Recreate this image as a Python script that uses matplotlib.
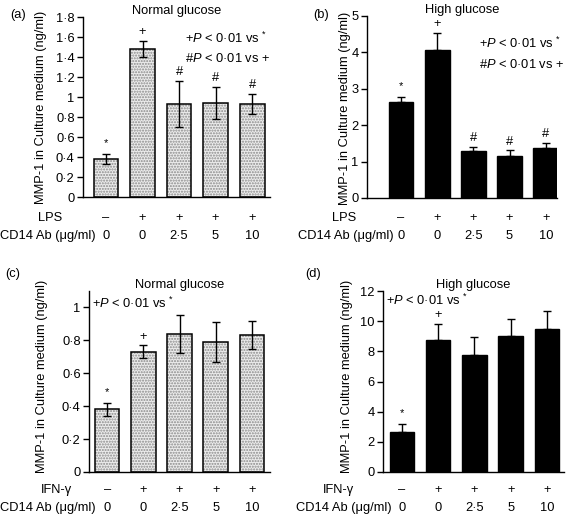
import matplotlib
matplotlib.use("Agg")
import matplotlib.pyplot as plt
from matplotlib.ticker import FuncFormatter

plt.rcParams['font.family'] = ['Liberation Sans', 'DejaVu Sans']
plt.rcParams['mathtext.fontset'] = 'custom'
plt.rcParams['mathtext.rm'] = 'Liberation Sans'
plt.rcParams['mathtext.it'] = 'Liberation Sans:italic'
plt.rcParams['mathtext.bf'] = 'Liberation Sans:bold'
FS = 9.3
plt.rcParams['font.size'] = FS

# ---------------- data ----------------
cd14_labels = ["0", "0", "2·5", "5", "10"]
stim_signs = ["–", "+", "+", "+", "+"]

a_vals = [0.38, 1.48, 0.93, 0.94, 0.93]
a_errs = [0.05, 0.08, 0.23, 0.16, 0.10]
a_marks = ["*", "+", "#", "#", "#"]

b_vals = [2.64, 4.06, 1.29, 1.16, 1.37]
b_errs = [0.13, 0.47, 0.11, 0.15, 0.14]
b_marks = ["*", "+", "#", "#", "#"]

c_vals = [0.38, 0.73, 0.84, 0.79, 0.835]
c_errs = [0.04, 0.04, 0.115, 0.12, 0.085]
c_marks = ["*", "+", "", "", ""]

d_vals = [2.64, 8.74, 7.75, 9.03, 9.45]
d_errs = [0.53, 1.10, 1.20, 1.10, 1.20]
d_marks = ["*", "+", "", "", ""]

W, H = 568, 520
fig = plt.figure(figsize=(W / 100, H / 100), dpi=100)


def px_axes(left, right, bottom, top):
    return fig.add_axes([left / W, 1 - bottom / H, (right - left) / W, (bottom - top) / H])


def fmt(v, pos):
    if abs(v - round(v)) < 1e-9:
        return "%d" % round(v)
    return ("%.1f" % v).replace(".", "·")


def panel(ax, vals, errs, marks, dotted, xlim, ylim, yticks, title, letter,
          lab_px, legend, leg_px, ylab_x, row_px, ylab_y):
    x = list(range(len(vals)))
    if dotted:
        ax.bar(x, vals, width=0.68, color="#ececec", edgecolor="#8a8a8a", hatch="......",
               linewidth=0, zorder=2)
        ax.bar(x, vals, width=0.68, fill=False, edgecolor="black", linewidth=1.1, zorder=3)
        ax.errorbar(x, vals, yerr=errs, fmt="none", ecolor="black", elinewidth=1.0,
                    capsize=3, capthick=1.0, zorder=4)
    else:
        ax.bar(x, vals, width=0.68, color="black", edgecolor="black", linewidth=1.0, zorder=2)
        ax.errorbar(x, vals, yerr=[[0] * len(errs), errs], fmt="none", ecolor="black",
                    elinewidth=1.0, capsize=3, capthick=1.0, zorder=1)
    span = ylim[1] - ylim[0]
    for xi, v, e, m in zip(x, vals, errs, marks):
        if m:
            if m == "*":
                ax.text(xi, v + e + 0.06 * span, m, ha="center", va="center", fontsize=8)
            else:
                ax.text(xi, v + e + 0.015 * span, m, ha="center", va="bottom", fontsize=FS)
    ax.set_xlim(*xlim)
    ax.set_ylim(*ylim)
    ax.set_yticks(yticks)
    ax.yaxis.set_major_formatter(FuncFormatter(fmt))
    ax.set_xticks([])
    for s in ("top", "right"):
        ax.spines[s].set_visible(False)
    ax.spines["left"].set_linewidth(1.0)
    ax.spines["bottom"].set_linewidth(1.0)
    ax.tick_params(axis="y", direction="out", length=4, width=1.0, labelsize=FS, pad=2)
    ax.set_title(title, fontsize=FS, pad=1)
    fig.text(ylab_x / W, 1 - ylab_y / H, "MMP-1 in Culture medium (ng/ml)", rotation=90,
             ha="center", va="center", fontsize=FS)
    fig.text(lab_px[0] / W, 1 - lab_px[1] / H, letter, ha="left", va="center", fontsize=FS)
    for i, line in enumerate(legend):
        fig.text(leg_px[0] / W, 1 - (leg_px[1] + i * 21) / H, line, ha="left", va="center",
                 fontsize=FS)
    tr = ax.get_xaxis_transform()
    for xi, s, c in zip(x, stim_signs, cd14_labels):
        ax.annotate(s, xy=(xi, 0), xycoords=tr, xytext=(0, -(row_px[0])), textcoords="offset pixels",
                    ha="center", va="center", fontsize=FS, annotation_clip=False)
        ax.annotate(c, xy=(xi, 0), xycoords=tr, xytext=(0, -(row_px[1])), textcoords="offset pixels",
                    ha="center", va="center", fontsize=FS, annotation_clip=False)
    return ax


leg2 = [r"+$\mathit{P}$ < 0·01 vs $^{*}$", r"#$\mathit{P}$ < 0·01 vs +"]
leg1 = [r"+$\mathit{P}$ < 0·01 vs $^{*}$"]

# (a)
axa = px_axes(83, 270, 197, 17)
panel(axa, a_vals, a_errs, a_marks, True, (-0.63, 4.49), (0, 1.8),
      [0, 0.2, 0.4, 0.6, 0.8, 1.0, 1.2, 1.4, 1.6, 1.8], "Normal glucose", "(a)",
      (10, 15), leg2, (185, 38), 41, (21, 39), 107)
fig.text(62 / W, 1 - 218 / H, "LPS", ha="right", va="center", fontsize=FS)
fig.text(0 / W, 1 - 236 / H, "CD14 Ab (μg/ml)", ha="left", va="center", fontsize=FS)

# (b)
axb = px_axes(367, 557, 198, 16)
panel(axb, b_vals, b_errs, b_marks, False, (-0.94, 4.31), (0, 5),
      [0, 1, 2, 3, 4, 5], "High glucose", "(b)",
      (313, 15), leg2, (479, 43), 345, (20, 38), 108)
fig.text(356 / W, 1 - 218 / H, "LPS", ha="right", va="center", fontsize=FS)
fig.text(298 / W, 1 - 236 / H, "CD14 Ab (μg/ml)", ha="left", va="center", fontsize=FS)

# (c)
axc = px_axes(89, 270, 472, 291)
panel(axc, c_vals, c_errs, c_marks, True, (-0.5, 4.5), (0, 1.1),
      [0, 0.2, 0.4, 0.6, 0.8, 1.0], "Normal glucose", "(c)",
      (5, 274), leg1, (92, 303), 42, (18, 36), 376)
fig.text(72 / W, 1 - 490 / H, "IFN-γ", ha="right", va="center", fontsize=FS)
fig.text(0 / W, 1 - 508 / H, "CD14 Ab (μg/ml)", ha="left", va="center", fontsize=FS)

# (d)
axd = px_axes(383, 564, 472, 291)
panel(axd, d_vals, d_errs, d_marks, False, (-0.52, 4.47), (0, 12),
      [0, 2, 4, 6, 8, 10, 12], "High glucose", "(d)",
      (305, 274), leg1, (386, 300), 347, (18, 36), 376)
fig.text(354 / W, 1 - 490 / H, "IFN-γ", ha="right", va="center", fontsize=FS)
fig.text(296 / W, 1 - 508 / H, "CD14 Ab (μg/ml)", ha="left", va="center", fontsize=FS)

fig.savefig("out.png", dpi=100)
